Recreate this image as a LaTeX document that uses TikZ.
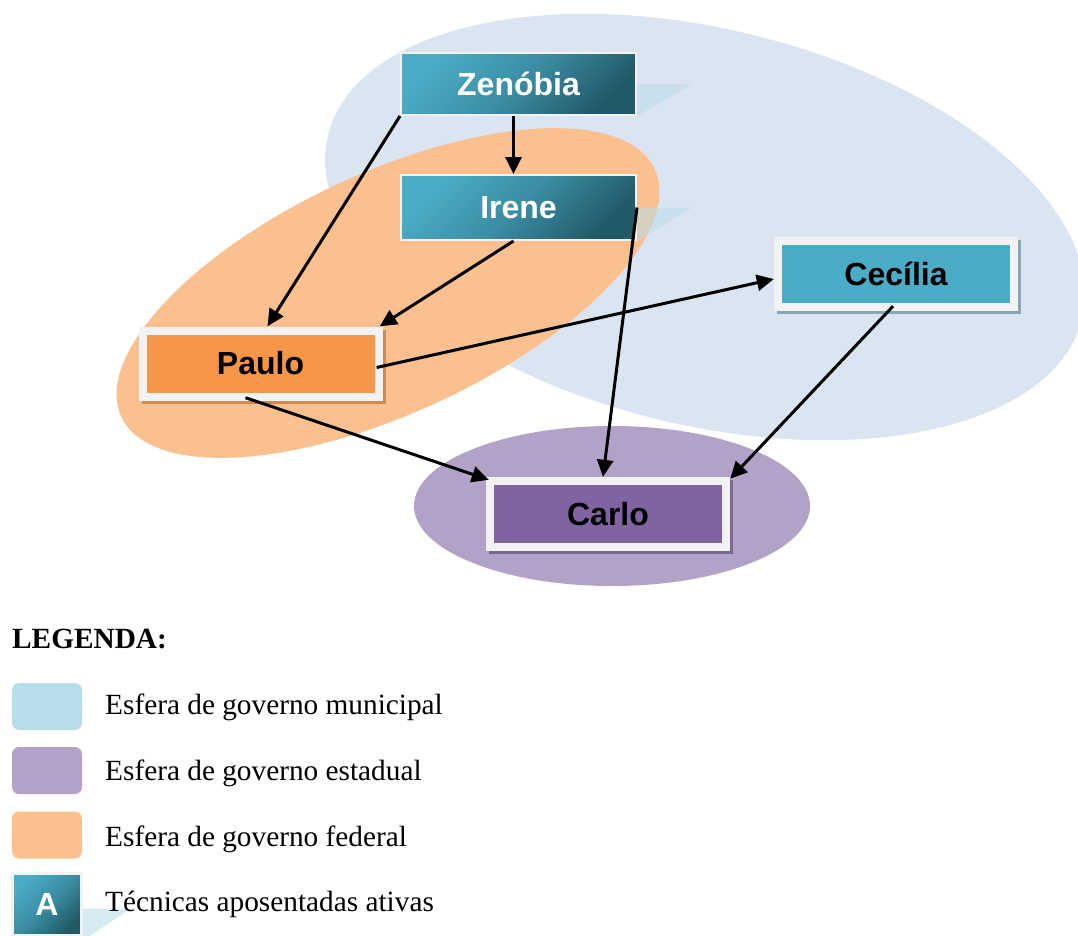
\documentclass[tikz,border=0pt]{standalone}
\usepackage{fontspec}
\setmainfont{Liberation Serif}
\newfontfamily\boxfont{Liberation Sans}
\usepackage{tikz}
\usetikzlibrary{positioning,shadows,arrows.meta}

\definecolor{munfill}{HTML}{DBE5F1}
\definecolor{fedfill}{HTML}{FAC090}
\definecolor{estfill}{HTML}{B2A2C7}
\definecolor{munkey}{HTML}{B7DDE8}
\definecolor{teallight}{HTML}{4BACC6}
\definecolor{tealdark}{HTML}{215968}
\definecolor{framegray}{HTML}{F2F2F2}
\definecolor{cecfill}{HTML}{4BACC6}
\definecolor{paufill}{HTML}{F79646}
\definecolor{carfill}{HTML}{8064A2}
\definecolor{cecshadow}{HTML}{8AA5B8}
\definecolor{paushadow}{HTML}{CC8A55}
\definecolor{carshadow}{HTML}{7A6890}

\begin{document}
\begin{tikzpicture}[x=1pt, y=-1pt,
		font=\fontsize{29.3}{34}\selectfont,
		>={Triangle[length=17pt,width=16pt]},
		tealnode/.style={rectangle, draw=framegray, line width=2pt, top color=teallight, bottom color=tealdark, middle color=teallight!62!tealdark, shading angle=45, minimum width=235pt, minimum height=62pt, text=white, font=\boxfont\bfseries\fontsize{32}{38}\selectfont},
		framenode/.style 2 args={rectangle, fill=framegray, minimum width=244pt, minimum height=74pt, font=\boxfont\bfseries\fontsize{32}{38}\selectfont,
			path picture={\fill[#1] ([shift={(8pt,-8pt)}]path picture bounding box.north west) rectangle ([shift={(-8pt,8pt)}]path picture bounding box.south east);},
			general shadow={fill=#2, shadow xshift=3pt, shadow yshift=-3pt}},
		swatch/.style={rectangle, rounded corners=7pt, fill=#1, minimum width=70pt, minimum height=47pt},
		keytext/.style={anchor=base west, inner sep=0pt},
		reflect/.style={fill=munkey, fill opacity=0.55},
		]
		\useasboundingbox (0,0) rectangle (1078,935);
		
		%Spheres
		\fill[munfill, rotate around={-13.7:(705,227)}] (705,227) ellipse [x radius=388, y radius=198];
		\fill[fedfill, rotate around={24.9:(388,293)}] (388,293) ellipse [x radius=294, y radius=120];
		\fill[estfill] (612,506) ellipse [x radius=198, y radius=80];
		
		%Nodes
		\node[tealnode]                     (zen) at (518.5,84)    {Zenóbia};
		\node[tealnode, minimum height=65pt] (ire) at (518.5,207.5) {Irene};
		\node[framenode={cecfill}{cecshadow}] (cec) at (896,274)    {Cecília};
		\node[framenode={paufill}{paushadow}] (pau) at (260.5,363.5) {Paulo};
		\node[framenode={carfill}{carshadow}] (car) at (608,514)    {Carlo};
		
		\fill[reflect] (zen.east) -- ++(55,0) -- (zen.south east) -- cycle;
		\fill[reflect] (ire.east) -- ++(55,0) -- (ire.south east) -- cycle;
		
		%Lines
		\draw[->,line width=3pt] ([xshift=-5pt]zen.south) -- ([xshift=-5pt]ire.north);
		\draw[->,line width=3pt] (zen.south west) -- ([xshift=7pt]pau.north);
		\draw[->,line width=3pt] ([xshift=-5pt]ire.south) -- ([xshift=-3pt]pau.north east);
		\draw[->,line width=3pt] (ire.east) -- ([xshift=-5pt]car.north);
		\draw[->,line width=3pt] ([xshift=-6pt,yshift=-4pt]pau.east) -- ([yshift=-5pt]cec.west);
		\draw[->,line width=3pt] ([xshift=-15pt,yshift=3pt]pau.south) -- ([xshift=3pt,yshift=-3pt]car.north west);
		\draw[->,line width=3pt] ([xshift=-3pt,yshift=5pt]cec.south) -- ([yshift=-2pt]car.north east);
		
		%Legend
		\node[keytext] (leg) at (12,648) {\textbf{LEGENDA:}};
		\node[swatch=munkey]  (sw1) at (47,706.5) {};
		\node[keytext]        (key1) at (105,714) {Esfera de governo municipal};
		\node[swatch=estfill] (sw2) at (47,770.5) {};
		\node[keytext]        (key2) at (105,780) {Esfera de governo estadual};
		\node[swatch=fedfill] (sw3) at (47,835) {};
		\node[keytext]        (key3) at (105,846) {Esfera de governo federal};
		\node[tealnode, line width=3pt, minimum width=69pt, minimum height=62pt] (swa) at (47,904.5) {A};
		\fill[reflect] ([yshift=-4pt]swa.east) -- ++(48,0) -- ++(-48,32) -- cycle;
		\node[keytext]        (key4) at (105,911) {Técnicas aposentadas ativas};
\end{tikzpicture}
\end{document}
